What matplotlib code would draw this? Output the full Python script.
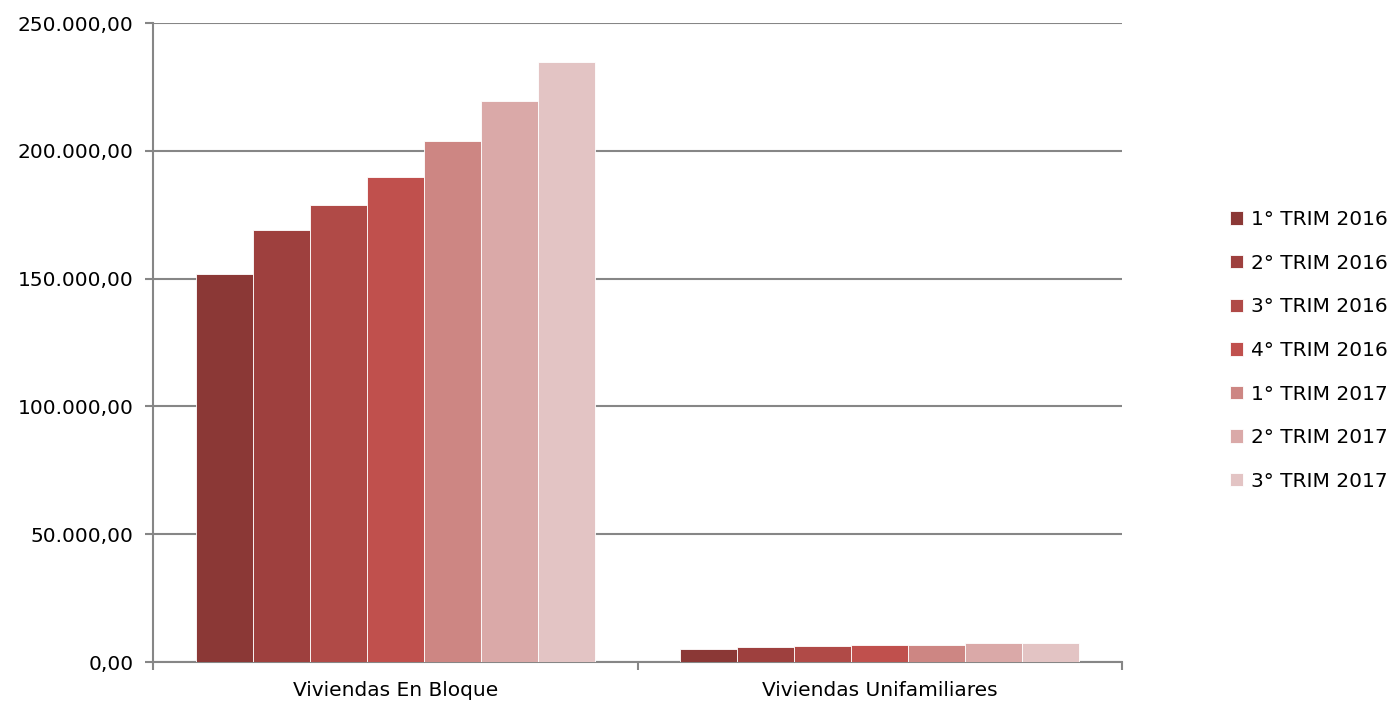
import matplotlib.pyplot as plt
import numpy as np
from matplotlib.ticker import FuncFormatter, FixedLocator

categories = ["Viviendas En Bloque", "Viviendas Unifamiliares"]
series = ["1° TRIM 2016", "2° TRIM 2016", "3° TRIM 2016", "4° TRIM 2016",
          "1° TRIM 2017", "2° TRIM 2017", "3° TRIM 2017"]
bloque = [151800, 169000, 178800, 189700, 203800, 219500, 234700]
unifamiliares = [5100, 5850, 6100, 6750, 6750, 7250, 7400]
colors = ["#8B3836", "#9E403E", "#B04A47", "#C0504D", "#CD8683", "#DAA9A8", "#E3C4C4"]


def fmt(v, pos):
    s = f"{v:,.2f}"
    return s.replace(",", "X").replace(".", ",").replace("X", ".")


fig = plt.figure(figsize=(13.93, 7.06), dpi=100)
ax = fig.add_axes([153 / 1393, 1 - 662 / 706, (1122 - 153) / 1393, (662 - 23) / 706])

x = np.arange(len(categories))
w = 0.1175
for i, name in enumerate(series):
    vals = [bloque[i], unifamiliares[i]]
    ax.bar(x + (i - 3) * w, vals, width=w, color=colors[i], label=name,
           edgecolor="white", linewidth=0.6, zorder=3)

ax.set_xlim(-0.5, 1.5)
ax.set_ylim(0, 250000)
ax.set_yticks(np.arange(0, 250001, 50000))
ax.yaxis.set_major_formatter(FuncFormatter(fmt))
ax.grid(axis="y", color="#868686", linewidth=1.5, zorder=0)

ax.set_xticks(x)
ax.set_xticklabels(categories, fontsize=14.5)
ax.xaxis.set_minor_locator(FixedLocator([-0.5, 0.5, 1.5]))
ax.tick_params(axis="x", which="major", length=0, pad=14)
ax.tick_params(axis="x", which="minor", length=6, width=1.5, color="#868686")
ax.tick_params(axis="y", length=6, width=1.5, color="#868686", labelsize=14.5, pad=8)

for side in ["top", "right"]:
    ax.spines[side].set_visible(False)
for side in ["left", "bottom"]:
    ax.spines[side].set_color("#868686")
    ax.spines[side].set_linewidth(1.5)

ax.legend(loc="center left", bbox_to_anchor=(1.093, 0.4875), frameon=False, fontsize=14.5,
          handlelength=0.65, handleheight=0.65, handletextpad=0.4, labelspacing=1.22)

fig.savefig("out.png", dpi=100)
